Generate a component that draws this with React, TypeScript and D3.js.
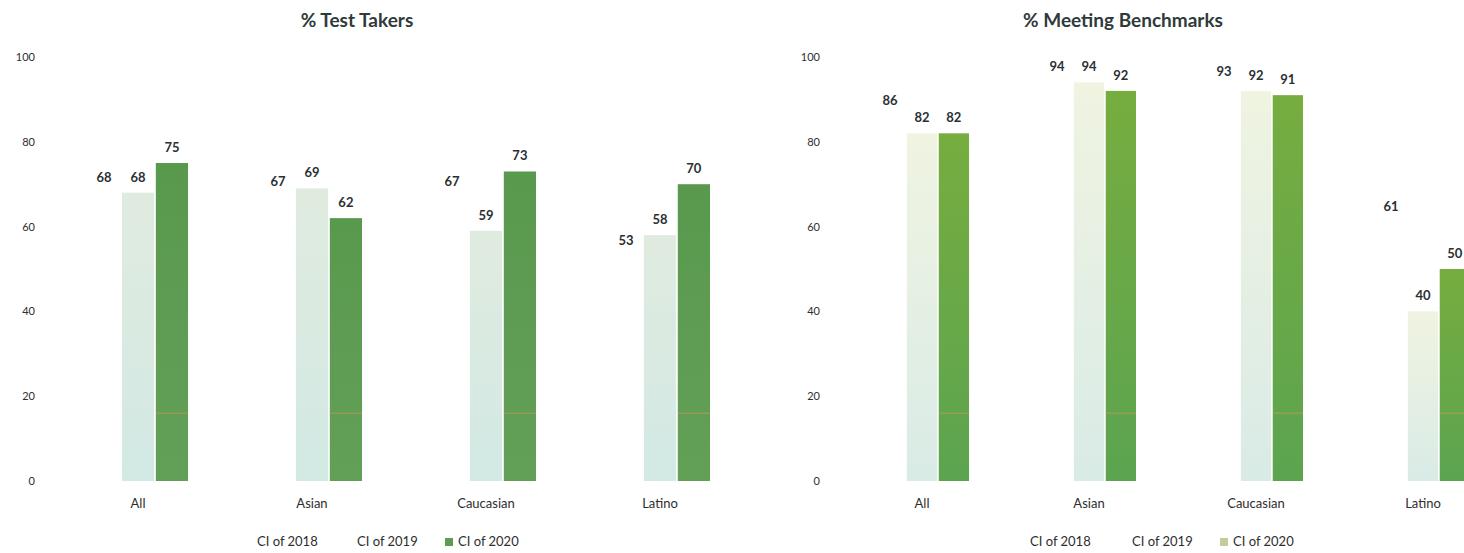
import React from "react";
import * as d3 from "d3";

// Categories and series
const categories = ["All", "Asian", "Caucasian", "Latino"];
const seriesNames = ["CI of 2018", "CI of 2019", "CI of 2020"];
const yTicks = [0, 20, 40, 60, 80, 100];

// % Test Takers
const testTakers2018 = [68, 67, 67, 53];
const testTakers2019 = [68, 69, 59, 58];
const testTakers2020 = [75, 62, 73, 70];

// % Meeting Benchmarks
const benchmarks2018 = [86, 94, 93, 61];
const benchmarks2019 = [82, 94, 92, 40];
const benchmarks2020 = [82, 92, 91, 50];

// faint orange rule drawn across the 2020 bars
const ruleValue = 16;

const FONT = "Lato, 'Open Sans', 'Liberation Sans', sans-serif";
const W = 1464;
const H = 553;

type PanelProps = {
  id: string;
  title: string;
  titleX: number;
  values: number[][];
  xRange: [number, number];
  padInner: number;
  tickX: number;
  fills: [string, string][];
  legendX: number[];
  legendSwatch: string[];
};

function Panel(p: PanelProps) {
  const y = d3.scaleLinear().domain([0, 100]).range([481, 57]);
  const x0 = d3.scaleBand<string>().domain(categories).range(p.xRange).paddingInner(p.padInner).paddingOuter(0);
  const x1 = d3
    .scaleBand<string>()
    .domain(seriesNames)
    .range([0, x0.bandwidth()])
    .paddingInner(0.05);
  const bw = x1.bandwidth();

  return (
    <g>
      <defs>
        {p.fills.map((f, i) => (
          <linearGradient key={i} id={`${p.id}-g${i}`} x1="0" y1="0" x2="0" y2="1">
            <stop offset="0%" stopColor={f[0]} />
            <stop offset="100%" stopColor={f[1]} />
          </linearGradient>
        ))}
      </defs>

      <text x={p.titleX} y={27} textAnchor="middle" fontFamily={FONT} fontWeight={700} fontSize={19} fill="#2f3a3a">
        {p.title}
      </text>

      {yTicks.map((t) => (
        <text key={t} x={p.tickX} y={y(t) + 4} textAnchor="end" fontFamily={FONT} fontSize={11} fill="#2e2e2e">
          {t}
        </text>
      ))}

      {categories.map((c, ci) => (
        <g key={c} transform={`translate(${x0(c)},0)`}>
          {seriesNames.map((s, si) => {
            const v = p.values[si][ci];
            const bx = x1(s) as number;
            return (
              <g key={s}>
                <rect x={bx} y={y(v)} width={bw} height={y(0) - y(v)} fill={`url(#${p.id}-g${si})`} />
                {si === 2 && (
                  <line
                    x1={bx}
                    x2={bx + bw}
                    y1={y(ruleValue)}
                    y2={y(ruleValue)}
                    stroke="#e09a5a"
                    strokeOpacity={0.6}
                    strokeWidth={1}
                  />
                )}
                <text
                  x={bx + bw / 2}
                  y={y(v) - 11}
                  textAnchor="middle"
                  fontFamily={FONT}
                  fontWeight={700}
                  fontSize={13}
                  fill="#2b2f33"
                >
                  {v}
                </text>
              </g>
            );
          })}
          <text
            x={(x1(seriesNames[1]) as number) + bw / 2}
            y={508}
            textAnchor="middle"
            fontFamily={FONT}
            fontSize={13}
            fill="#2e2e2e"
          >
            {c}
          </text>
        </g>
      ))}

      {seriesNames.map((s, i) => (
        <g key={s}>
          <rect x={p.legendX[i] - 13} y={538} width={8} height={8} fill={p.legendSwatch[i]} />
          <text x={p.legendX[i]} y={546} fontFamily={FONT} fontSize={13} fill="#2e2e2e">
            {s}
          </text>
        </g>
      ))}
    </g>
  );
}

export default function App() {
  return (
    <svg
      width={W}
      height={H}
      viewBox={`0 0 ${W} ${H}`}
      style={{ position: "absolute", left: 0, top: 0, display: "block", background: "#fff" }}
    >
      <rect width={W} height={H} fill="#fff" />
      <Panel
        id="tt"
        title="% Test Takers"
        titleX={357}
        values={[testTakers2018, testTakers2019, testTakers2020]}
        xRange={[88, 710]}
        padInner={0.425}
        tickX={35}
        fills={[
          ["#ffffff", "#ffffff"],
          ["#e0ebdf", "#d2e9e4"],
          ["#59994e", "#62a057"],
        ]}
        legendX={[257, 357, 458]}
        legendSwatch={["#ffffff", "#ffffff", "#5f9c52"]}
      />
      <Panel
        id="mb"
        title="% Meeting Benchmarks"
        titleX={1123}
        values={[benchmarks2018, benchmarks2019, benchmarks2020]}
        xRange={[875, 1470]}
        padInner={0.437}
        tickX={820}
        fills={[
          ["#ffffff", "#ffffff"],
          ["#f0f4e1", "#d9ebe6"],
          ["#76ad3f", "#5ca450"],
        ]}
        legendX={[1030, 1132, 1233]}
        legendSwatch={["#ffffff", "#ffffff", "#c6cb9c"]}
      />
    </svg>
  );
}
